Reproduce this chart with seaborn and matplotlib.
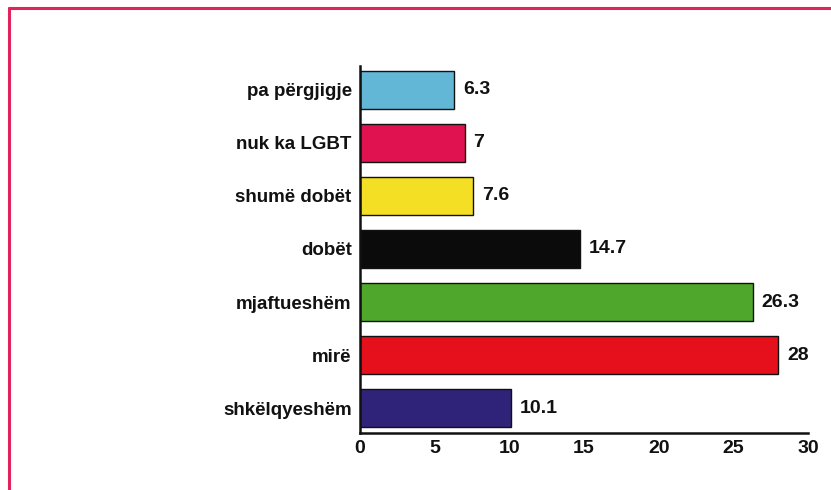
import matplotlib
matplotlib.use("Agg")
import matplotlib.pyplot as plt
import seaborn as sns
import pandas as pd
from matplotlib.lines import Line2D

categories = ["pa përgjigje", "nuk ka LGBT", "shumë dobët", "dobët",
              "mjaftueshëm", "mirë", "shkëlqyeshëm"]
values = [6.3, 7, 7.6, 14.7, 26.3, 28, 10.1]
value_labels = ["6.3", "7", "7.6", "14.7", "26.3", "28", "10.1"]
colors = ["#62b6d6", "#e0124f", "#f4df25", "#0b0b0b", "#4fa82c", "#e5101c", "#2f2379"]
xticks = [0, 5, 10, 15, 20, 25, 30]

sns.set_theme(style="white")
plt.rcParams['font.family'] = ['Liberation Sans Narrow', 'Liberation Sans', 'DejaVu Sans']

df = pd.DataFrame({"cat": categories, "val": values})

fig = plt.figure(figsize=(8.31, 4.9), dpi=100)
ax = fig.add_axes([0.4332, 0.1163, 0.9723 - 0.4332, 0.8653 - 0.1163])

sns.barplot(data=df, x="val", y="cat", hue="cat", palette=colors, legend=False,
            order=categories, hue_order=categories, width=0.73,
            edgecolor="#111111", linewidth=1.0, ax=ax, saturation=1)

ax.set_xlim(0, 30)
ax.set_ylim(6.47, -0.45)
ax.set_xticks(xticks)
ax.set_xticklabels([str(t) for t in xticks], fontsize=14, fontweight="bold")
ax.tick_params(axis="x", direction="in", length=6, width=1.6, pad=5, colors="#111111")
ax.tick_params(axis="y", length=0, pad=6)
for lbl in ax.get_yticklabels():
    lbl.set_fontsize(13.5)
    lbl.set_fontweight("bold")
    lbl.set_color("#111111")
ax.set_xlabel("")
ax.set_ylabel("")
for s in ["top", "right"]:
    ax.spines[s].set_visible(False)
for s in ["left", "bottom"]:
    ax.spines[s].set_linewidth(1.8)
    ax.spines[s].set_color("#111111")

for i, (v, t) in enumerate(zip(values, value_labels)):
    ax.text(v + 0.6, i, t, va="center", ha="left", fontsize=14,
            fontweight="bold", color="#111111")

# pink frame (top and left edges visible)
fig.add_artist(Line2D([8.5 / 831, 1.0], [1 - 8.5 / 490, 1 - 8.5 / 490],
                      transform=fig.transFigure, color="#e0245e", linewidth=2.2))
fig.add_artist(Line2D([8.5 / 831, 8.5 / 831], [1 - 8.5 / 490, 0.0],
                      transform=fig.transFigure, color="#e0245e", linewidth=2.2))

fig.savefig("out.png", dpi=100, facecolor="white")
